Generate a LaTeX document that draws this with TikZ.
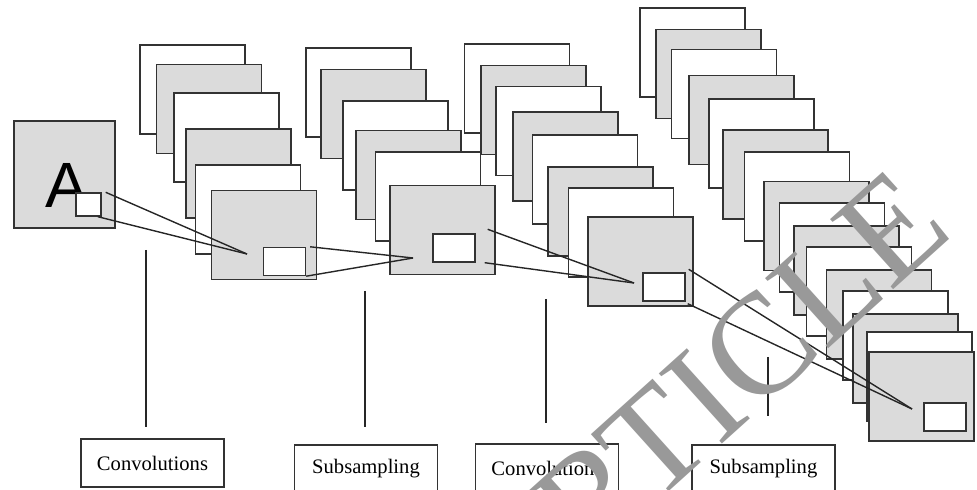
\documentclass[tikz,border=0pt]{standalone}
\usepackage{fontspec}
\setmainfont{Liberation Serif}
\newfontfamily\arialfont{Liberation Sans}
\begin{document}
\begin{tikzpicture}[x=0.5pt, y=-0.5pt, line width=0.7pt,
    fmap/.style = {draw=black!80, fill=white, inner sep=0pt, minimum width=52.5pt, minimum height=44.5pt},
    gmap/.style = {fmap, fill=black!14},
    win/.style = {draw=black!80, fill=white, inner sep=0pt, minimum width=21pt, minimum height=14pt},
    lab/.style = {draw=black!80, inner sep=0pt, minimum width=71.5pt, minimum height=24pt, font=\fontsize{10.3}{12}\selectfont}]
    \clip (0,0) rectangle (977,490);

    % input image
    \node[gmap, minimum width=50.5pt, minimum height=53.5pt] (in) at (64.5,174.5) {};
    \node[font=\arialfont\fontsize{32}{32}\selectfont, inner sep=0pt, anchor=base] (a) at (66.5,208) {A};
    \node[win, minimum width=12.5pt, minimum height=11.5pt] (w0) at (88.5,204.5) {};

    % first convolution maps
    \node[fmap] (c1) at (192.5,89.5) {};
    \node[gmap] (c2) at (209,109) {};
    \node[fmap] (c3) at (226.5,137.5) {};
    \node[gmap] (c4) at (238.5,173.5) {};
    \node[fmap] (c5) at (248,209.5) {};
    \node[gmap] (c6) at (264,235) {};
    \node[win] (w1) at (284.5,261.5) {};

    % first subsampling maps
    \node[fmap] (s1) at (358.5,92.5) {};
    \node[gmap] (s2) at (373.5,114) {};
    \node[fmap] (s3) at (395.5,145.5) {};
    \node[gmap] (s4) at (408.5,175) {};
    \node[fmap] (s5) at (428,196.5) {};
    \node[gmap] (s6) at (442.5,230) {};
    \node[win] (w2) at (454,248) {};

    % second convolution maps
    \node[fmap] (cc1) at (517,88.5) {};
    \node[gmap] (cc2) at (533.5,110) {};
    \node[fmap] (cc3) at (548.5,131) {};
    \node[gmap] (cc4) at (565.5,156.5) {};
    \node[fmap] (cc5) at (585,179.5) {};
    \node[gmap] (cc6) at (600.5,211.5) {};
    \node[fmap] (cc7) at (621,232.5) {};
    \node[gmap] (cc8) at (640.5,261.5) {};
    \node[win] (w3) at (664,287) {};

    % second subsampling maps
    \node[fmap] (ss1) at (692.5,52.5) {};
    \node[gmap] (ss2) at (708.5,74) {};
    \node[fmap] (ss3) at (724,94) {};
    \node[gmap] (ss4) at (741.5,120) {};
    \node[fmap] (ss5) at (761.5,143.5) {};
    \node[gmap] (ss6) at (775.5,174.5) {};
    \node[fmap] (ss7) at (797,196.5) {};
    \node[gmap] (ss8) at (816.5,226) {};
    \node[fmap] (ss9) at (832,247.5) {};
    \node[gmap] (ss10) at (846.5,270.5) {};
    \node[fmap] (ss11) at (859,291.5) {};
    \node[gmap] (ss12) at (879,314.5) {};
    \node[fmap] (ss13) at (895.5,335.5) {};
    \node[gmap] (ss14) at (905.5,358.5) {};
    \node[fmap] (ss15) at (919.5,376.5) {};
    \node[gmap] (ss16) at (921.5,396.5) {};
    \node[win] (w4) at (945,417) {};

    % receptive fields
    \coordinate (f1) at (247,254);
    \coordinate (f2) at (413,258);
    \coordinate (f3) at (634,283);
    \coordinate (f4) at (912,409);
    \draw[black!85] ([xshift=2pt]w0.north east) -- (f1);
    \draw[black!85] ([xshift=-2pt]w0.south east) -- (f1);
    \draw[black!85] ([xshift=2pt]w1.north east) -- (f2);
    \draw[black!85] (w1.south east) -- (f2);
    \draw[black!85] ([shift={(6pt,2pt)}]w2.north east) -- (f3);
    \draw[black!85] ([xshift=4.5pt]w2.south east) -- (f3);
    \draw[black!85] ([shift={(1.5pt,1.5pt)}]w3.north east) -- (f4);
    \draw[black!85] ([shift={(1pt,-1pt)}]w3.south east) -- (f4);

    % labels
    \node[lab] (l1) at (152.5,463) {Convolutions};
    \node[lab] (l2) at (366,469) {Subsampling};
    \node[lab] (l3) at (547,468) {Convolutions};
    \node[lab] (l4) at (763.5,469) {Subsampling};
    \coordinate (v1a) at (146,250); \coordinate (v1b) at (146,427);
    \coordinate (v2a) at (365,291); \coordinate (v2b) at (365,427);
    \coordinate (v3a) at (546,299); \coordinate (v3b) at (546,423);
    \coordinate (v4a) at (768,357); \coordinate (v4b) at (768,416);
    \draw[black!85] (v1a) -- (v1b);
    \draw[black!85] (v2a) -- (v2b);
    \draw[black!85] (v3a) -- (v3b);
    \draw[black!85] (v4a) -- (v4b);

    % stamp
    \node[text=black!40, rotate=42, font=\fontsize{72}{72}\selectfont, inner sep=0pt] (stamp) at (702,399) {ARTICLE};

\end{tikzpicture}
\end{document}
